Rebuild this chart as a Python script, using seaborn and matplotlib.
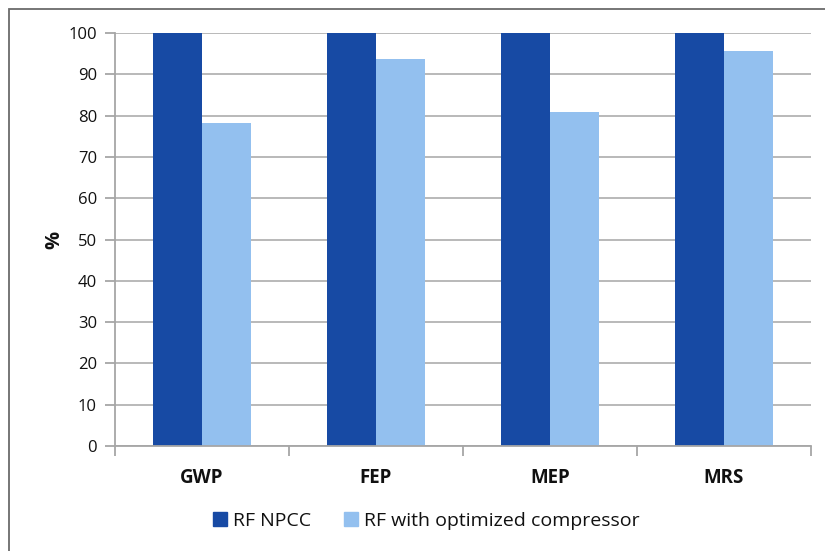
import matplotlib
matplotlib.use("Agg")
import matplotlib.pyplot as plt
import seaborn as sns
import pandas as pd
from matplotlib.patches import Rectangle
from matplotlib.lines import Line2D
from matplotlib.ticker import FixedLocator

categories = ["GWP", "FEP", "MEP", "MRS"]
series_names = ["RF NPCC", "RF with optimized compressor"]
npcc_values = [100, 100, 100, 100]
optimized_values = [78.3, 93.7, 80.8, 95.6]
y_ticks = [0, 10, 20, 30, 40, 50, 60, 70, 80, 90, 100]

colors = ["#174AA4", "#93C0EF"]

df = pd.DataFrame({
    "category": categories * 2,
    "series": [series_names[0]] * 4 + [series_names[1]] * 4,
    "value": npcc_values + optimized_values,
})

sns.set_style("white")
plt.rcParams["font.family"] = ["Open Sans", "DejaVu Sans"]

fig = plt.figure(figsize=(8.25, 5.51), dpi=100)
ax = fig.add_axes([115 / 825, 1 - 446 / 551, (811 - 115) / 825, (446 - 33) / 551])

sns.barplot(data=df, x="category", y="value", hue="series", order=categories,
            hue_order=series_names, palette=colors, width=0.565, saturation=1,
            linewidth=0, ax=ax, legend=False)

ax.set_xlim(-0.5, len(categories) - 0.5)
ax.set_ylim(0, 100)
ax.set_yticks(y_ticks)
ax.yaxis.grid(True, color="#b3b3b3", linewidth=1.3)
ax.set_axisbelow(True)

for side in ["top", "right"]:
    ax.spines[side].set_visible(False)
for side in ["left", "bottom"]:
    ax.spines[side].set_color("#a6a6a6")
    ax.spines[side].set_linewidth(1.3)

ax.tick_params(axis="y", which="major", left=True, length=7, width=1.3,
               color="#a6a6a6", labelsize=12, labelcolor="#111111", pad=6)
ax.tick_params(axis="x", which="major", bottom=False, labelsize=13.5, pad=12,
               labelcolor="#111111")
ax.xaxis.set_minor_locator(FixedLocator([i - 0.5 for i in range(len(categories) + 1)]))
ax.tick_params(axis="x", which="minor", bottom=True, length=7, width=1.3, color="#a6a6a6")
for lbl in ax.get_xticklabels():
    lbl.set_fontweight("bold")

ax.set_xlabel("")
ax.set_ylabel("%", fontsize=14.5, fontweight="bold", labelpad=3, color="#111111")

handles = [Line2D([], [], marker="s", linestyle="", markersize=9.5,
                  markerfacecolor=c, markeredgecolor=c) for c in colors]
fig.legend(handles, series_names, loc="center", bbox_to_anchor=(426 / 825, 1 - 521 / 551),
           ncol=2, frameon=False, fontsize=14, handletextpad=0.25,
           handlelength=0.8, columnspacing=1.65, labelcolor="#111111")

# chart-area border
fig.patches.append(Rectangle((9 / 825, -0.2), 2, 1.2 - 9 / 551, transform=fig.transFigure,
                             fill=False, edgecolor="#6b6b6b", linewidth=1.3))

fig.savefig("out.png", dpi=100)
